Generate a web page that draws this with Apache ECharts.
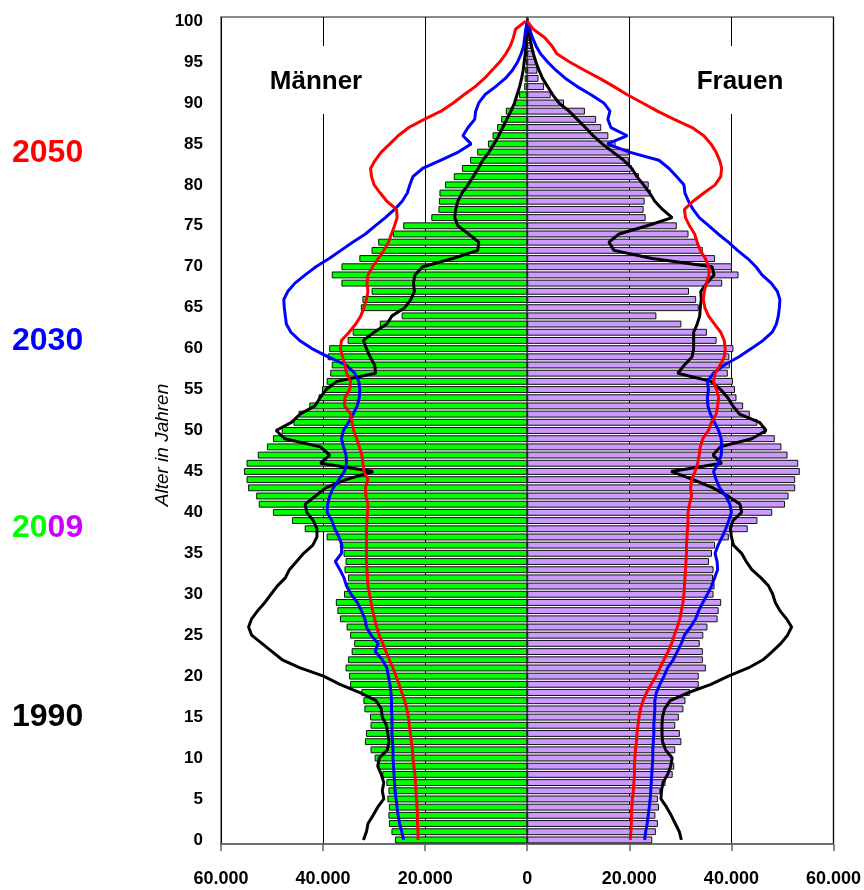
<!DOCTYPE html>
<html>
<head>
<meta charset="utf-8">
<script src="https://cdn.jsdelivr.net/npm/echarts@6/dist/echarts.min.js"></script>
<style>
  html, body { margin: 0; padding: 0; background: #fff; }
  #chart { width: 864px; height: 890px; }
</style>
</head>
<body>
<div id="chart"></div>
<script>
// Alter 0..100, Werte in Tausend
var ages = [];
for (var i = 0; i <= 100; i++) ages.push(String(i));

// Balken 2009
var men2009 = [
  25.9, 26.6, 27.1, 27.2, 27.1, 27.4, 27.2, 27.6, 28.4, 29.2,
  29.9, 30.7, 31.8, 31.6, 30.7, 30.8, 31.9, 32.1, 32.5, 34.7,
  34.9, 35.6, 35.1, 34.4, 33.9, 34.7, 35.4, 36.7, 37.2, 37.5,
  35.9, 35.4, 35.1, 35.8, 35.6, 36.0, 36.7, 39.3, 43.6, 46.1,
  49.8, 52.6, 53.1, 54.7, 55.0, 55.5, 55.0, 52.8, 51.0, 49.8,
  48.1, 45.8, 44.8, 42.7, 40.9, 40.2, 39.3, 38.6, 38.3, 39.1,
  38.8, 35.2, 34.2, 28.9, 24.6, 32.6, 32.3, 30.5, 36.4, 38.3,
  36.4, 32.9, 30.5, 29.2, 26.3, 24.3, 18.8, 17.4, 17.3, 17.2,
  16.1, 14.4, 12.8, 11.2, 9.8, 7.7, 6.8, 5.9, 5.1, 4.2,
  2.5, 1.6, 0.6, 0.5, 0.4, 0.3, 0.2, 0.15, 0.1, 0.05,
  0.05
];
var women2009 = [
  24.5, 25.2, 25.6, 25.1, 25.8, 25.6, 26.1, 27.1, 28.5, 28.8,
  28.4, 29.0, 30.2, 29.9, 29.0, 29.7, 30.6, 31.0, 31.9, 33.6,
  33.6, 35.0, 34.4, 34.4, 33.8, 34.5, 35.3, 37.3, 37.5, 38.0,
  36.5, 36.7, 36.4, 36.5, 35.6, 36.2, 36.8, 39.5, 43.2, 45.1,
  48.0, 50.5, 51.2, 52.5, 52.5, 53.4, 53.1, 51.0, 49.8, 48.5,
  46.8, 45.1, 43.6, 42.3, 41.0, 40.7, 40.3, 39.3, 39.7, 39.6,
  40.4, 37.1, 35.2, 30.2, 25.3, 33.6, 33.1, 31.7, 38.2, 41.4,
  40.1, 36.8, 34.4, 33.4, 31.6, 29.3, 23.2, 22.8, 23.0, 24.2,
  23.8, 21.9, 20.5, 19.9, 19.9, 17.3, 15.9, 14.5, 13.5, 11.3,
  7.2, 4.6, 3.3, 2.2, 2.0, 1.7, 1.4, 1.0, 0.7, 0.5,
  0.3
];

// Linie 1990
var men1990 = [
  32.1, 31.5, 31.2, 30.2, 29.3, 28.1, 28.4, 28.1, 28.6, 29.3,
  29.0, 27.4, 27.1, 27.3, 27.6, 28.4, 28.6, 29.6, 32.8, 36.7,
  39.9, 44.5, 48.0, 50.0, 52.0, 54.0, 54.6, 54.0, 52.8, 51.4,
  50.2, 49.0, 47.4, 46.6, 45.2, 43.8, 42.0, 41.2, 41.2, 41.9,
  43.2, 43.5, 41.5, 39.5, 35.5, 30.2, 40.5, 38.7, 40.5, 47.5,
  49.2, 46.2, 44.5, 41.6, 40.6, 39.4, 37.3, 29.7, 29.9, 30.8,
  31.5, 32.1, 30.0, 27.5, 26.5, 24.0, 22.8, 22.1, 22.3, 22.0,
  20.5, 14.6, 9.7, 9.5, 11.5, 13.6, 14.2, 14.0, 13.6, 12.8,
  11.6, 10.6, 9.6, 8.7, 7.5, 6.5, 5.6, 4.8, 4.0, 3.2,
  2.5, 2.0, 1.5, 1.1, 0.8, 0.6, 0.4, 0.3, 0.2, 0.1,
  0
];
var women1990 = [
  30.2, 29.8, 29.0, 28.2, 27.3, 26.2, 26.3, 26.6, 27.5, 28.1,
  28.4, 27.1, 26.5, 26.4, 26.4, 26.5, 26.9, 28.0, 31.6, 36.0,
  39.4, 43.3, 46.2, 48.0, 49.7, 51.0, 51.8, 50.8, 49.5, 48.6,
  48.1, 47.3, 45.8, 44.0, 42.9, 42.0, 40.4, 40.0, 39.8, 40.3,
  42.0, 41.7, 39.3, 36.4, 32.5, 28.2, 38.1, 36.4, 37.8, 44.0,
  46.8, 45.5, 41.6, 40.3, 39.3, 37.9, 36.0, 29.5, 30.8, 32.3,
  32.6, 32.6, 32.6, 33.3, 33.8, 33.9, 34.1, 34.0, 35.2, 36.6,
  36.2, 24.5, 17.0, 16.0, 18.0, 23.5, 28.4, 26.5, 25.0, 24.0,
  22.8, 21.5, 20.5, 18.9, 16.8, 14.7, 12.9, 11.4, 9.8, 8.2,
  6.2, 5.0, 4.0, 3.0, 2.3, 1.7, 1.2, 0.8, 0.5, 0.3,
  0
];

// Linie 2030
var men2030 = [
  24.2, 24.6, 25.0, 25.3, 25.5, 25.7, 25.9, 26.0, 26.1, 26.2,
  26.3, 26.3, 26.4, 26.5, 26.5, 26.5, 26.6, 26.6, 26.7, 26.9,
  27.2, 27.5, 28.4, 29.8, 29.2, 30.6, 31.5, 31.8, 32.5, 33.3,
  34.5, 35.4, 35.9, 36.7, 37.6, 36.4, 36.3, 36.9, 37.7, 38.3,
  39.2, 39.1, 38.7, 38.0, 36.9, 35.8, 35.4, 35.5, 36.0, 36.4,
  36.0, 35.0, 34.1, 33.3, 32.9, 32.8, 33.0, 33.8, 35.5, 39.0,
  42.2, 44.6, 46.3, 47.2, 47.4, 47.6, 47.7, 46.9, 45.5, 43.5,
  41.4, 38.8, 36.5, 34.2, 31.7, 29.8, 27.8, 26.0, 24.5, 23.5,
  23.0, 22.4, 20.5, 17.0, 13.5, 11.0, 12.6, 11.6, 10.3, 10.1,
  9.5, 8.3, 6.2, 4.3, 2.9, 1.9, 1.2, 0.7, 0.5, 0.3,
  0
];
var women2030 = [
  23.0, 23.2, 23.5, 23.7, 23.9, 24.1, 24.2, 24.3, 24.4, 24.5,
  24.6, 24.6, 24.7, 24.8, 24.8, 24.9, 25.0, 25.0, 25.3, 26.0,
  26.8, 27.5, 28.6, 29.4, 30.2, 30.8, 32.0, 33.0, 33.6, 34.4,
  35.3, 36.1, 36.7, 37.3, 37.2, 36.8, 37.4, 38.2, 38.9, 39.5,
  40.0, 39.7, 38.9, 37.7, 37.0, 36.5, 37.4, 38.0, 38.1, 38.0,
  37.5, 36.7, 35.9, 35.4, 35.3, 35.5, 35.3, 36.5, 38.6, 41.5,
  43.9, 46.2, 48.0, 48.8, 49.2, 49.4, 49.5, 49.0, 47.8, 46.0,
  44.8, 43.2, 41.2, 39.4, 37.4, 35.6, 33.7, 32.5, 31.6, 30.9,
  30.7, 29.3, 27.8, 25.8, 20.0, 15.7, 19.6, 16.4, 15.8, 16.2,
  15.0, 12.5, 9.8, 7.5, 5.6, 4.0, 2.6, 1.7, 1.0, 0.5,
  0
];

// Linie 2050
var men2050 = [
  21.4, 21.4, 21.5, 21.5, 21.6, 21.7, 21.8, 21.9, 22.0, 22.2,
  22.4, 22.5, 22.7, 22.9, 23.1, 23.3, 23.6, 24.0, 24.6, 25.1,
  25.7, 26.3, 27.0, 27.7, 28.3, 29.0, 29.5, 29.9, 30.3, 30.6,
  30.9, 31.2, 31.3, 31.4, 31.5, 31.5, 31.5, 31.5, 31.5, 31.4,
  31.3, 31.2, 31.6, 31.7, 31.2, 32.0, 32.2, 32.4, 32.9, 33.4,
  34.0, 34.3, 34.6, 35.8, 35.7, 34.8, 34.6, 35.4, 35.7, 36.2,
  36.6, 36.4, 34.9, 33.6, 32.6, 32.0, 31.5, 31.2, 31.4, 31.2,
  30.3, 29.2, 28.1, 27.2, 26.6, 26.0, 25.5, 25.6, 27.5, 28.8,
  30.0, 30.5, 30.7, 29.8, 28.6, 26.9, 25.3, 23.2, 20.2, 16.9,
  14.5, 12.4, 10.2, 8.4, 6.9, 5.4, 4.2, 3.3, 2.7, 2.3,
  0.3
];
var women2050 = [
  20.2, 20.3, 20.4, 20.4, 20.5, 20.6, 20.8, 20.9, 21.0, 21.0,
  21.1, 21.2, 21.4, 21.5, 21.7, 21.9, 22.2, 22.7, 23.4, 24.3,
  25.2, 26.0, 26.8, 27.6, 28.3, 28.8, 29.4, 29.9, 30.2, 30.5,
  30.7, 30.8, 30.9, 31.0, 31.1, 31.2, 31.2, 31.3, 31.4, 31.5,
  31.5, 31.8, 32.2, 32.0, 32.2, 32.9, 33.4, 33.7, 33.9, 34.4,
  35.5, 36.1, 37.0, 37.3, 37.5, 37.1, 36.5, 36.8, 37.8, 38.6,
  38.8, 38.6, 37.9, 36.7, 35.5, 34.8, 34.5, 34.7, 35.1, 35.6,
  35.6, 34.9, 33.9, 33.3, 32.8, 31.8, 31.0, 30.8, 32.5, 34.6,
  36.8, 37.9, 38.1, 37.7, 37.0, 36.0, 34.6, 32.3, 28.8, 25.5,
  22.6, 19.6, 17.0, 14.2, 11.2, 8.3, 5.8, 4.8, 3.4, 1.2,
  0
];

var xTicks = [-60000, -40000, -20000, 0, 20000, 40000, 60000];

var FONT = '"Liberation Sans", Arial, sans-serif';

function left(arr) { return arr.map(function (v) { return -v * 1000; }); }
function right(arr) { return arr.map(function (v) { return v * 1000; }); }
function fmt(v) {
  var s = String(Math.abs(v));
  return s.replace(/\B(?=(\d{3})+(?!\d))/g, '.');
}

function barSeries(name, data, color) {
  return {
    name: name,
    type: 'bar',
    data: data,
    barGap: '-100%',
    barCategoryGap: '16%',
    itemStyle: { color: color, borderColor: '#111', borderWidth: 1 },
    silent: true,
    z: 2
  };
}
function lineSeries(name, data, color) {
  return {
    name: name,
    type: 'line',
    data: data,
    symbol: 'none',
    lineStyle: { color: color, width: 3 },
    silent: true,
    z: 5
  };
}

var chart = echarts.init(document.getElementById('chart'));
chart.setOption({
  animation: false,
  backgroundColor: '#fff',
  grid: {
    left: 221, top: 17, width: 614, height: 827,
    show: true, borderColor: '#666', borderWidth: 1.5,
    containLabel: false
  },
  xAxis: {
    type: 'value',
    min: xTicks[0], max: xTicks[xTicks.length - 1], interval: 20000,
    axisLine: { show: true, lineStyle: { color: '#666', width: 1.5 } },
    axisTick: { show: true, length: 7, lineStyle: { color: '#666', width: 1.5 } },
    axisLabel: {
      margin: 26, color: '#000', fontFamily: FONT, fontWeight: 'bold', fontSize: 18,
      formatter: fmt
    },
    splitLine: { show: true, lineStyle: { color: '#000', width: 1 } }
  },
  yAxis: {
    type: 'category',
    data: ages,
    axisLine: { show: true, lineStyle: { color: '#666', width: 1.5 } },
    axisTick: { show: false },
    axisLabel: {
      interval: 4, margin: 18, color: '#000', fontFamily: FONT, fontWeight: 'bold', fontSize: 17
    },
    splitLine: { show: false }
  },
  series: [
    barSeries('Männer 2009', left(men2009), '#00ff00'),
    barSeries('Frauen 2009', right(women2009), '#cc99ff'),
    lineSeries('Männer 1990', left(men1990), '#000000'),
    lineSeries('Frauen 1990', right(women1990), '#000000'),
    lineSeries('Männer 2030', left(men2030), '#0000ff'),
    lineSeries('Frauen 2030', right(women2030), '#0000ff'),
    lineSeries('Männer 2050', left(men2050), '#ff0000'),
    lineSeries('Frauen 2050', right(women2050), '#ff0000')
  ],
  graphic: [
    { type: 'rect', z: 100, shape: { x: 262, y: 46, width: 110, height: 68 }, style: { fill: '#fff' } },
    { type: 'text', z: 101, style: { text: 'Männer', x: 316, y: 82, align: 'center', verticalAlign: 'middle',
      font: 'bold 26px ' + FONT, fill: '#000' } },
    { type: 'rect', z: 100, shape: { x: 688, y: 46, width: 104, height: 68 }, style: { fill: '#fff' } },
    { type: 'text', z: 101, style: { text: 'Frauen', x: 740, y: 82, align: 'center', verticalAlign: 'middle',
      font: 'bold 26px ' + FONT, fill: '#000' } },
    { type: 'text', z: 101, x: 163, y: 445, rotation: Math.PI / 2,
      style: { text: 'Alter in Jahren', x: 0, y: 0, align: 'center', verticalAlign: 'middle',
        font: 'italic 19px ' + FONT, fill: '#000' } },
    { type: 'text', z: 101, style: { text: '2050', x: 12, y: 153, verticalAlign: 'middle',
      font: 'bold 32px ' + FONT, fill: '#ff0000' } },
    { type: 'text', z: 101, style: { text: '2030', x: 12, y: 341, verticalAlign: 'middle',
      font: 'bold 32px ' + FONT, fill: '#0000ff' } },
    { type: 'text', z: 101, style: { text: '{g|20}{p|09}', x: 12, y: 528, verticalAlign: 'middle',
      font: 'bold 32px ' + FONT,
      rich: {
        g: { fill: '#00ff00', font: 'bold 32px ' + FONT },
        p: { fill: '#cc00ff', font: 'bold 32px ' + FONT }
      } } },
    { type: 'text', z: 101, style: { text: '1990', x: 12, y: 717, verticalAlign: 'middle',
      font: 'bold 32px ' + FONT, fill: '#000000' } }
  ]
});
</script>
</body>
</html>
